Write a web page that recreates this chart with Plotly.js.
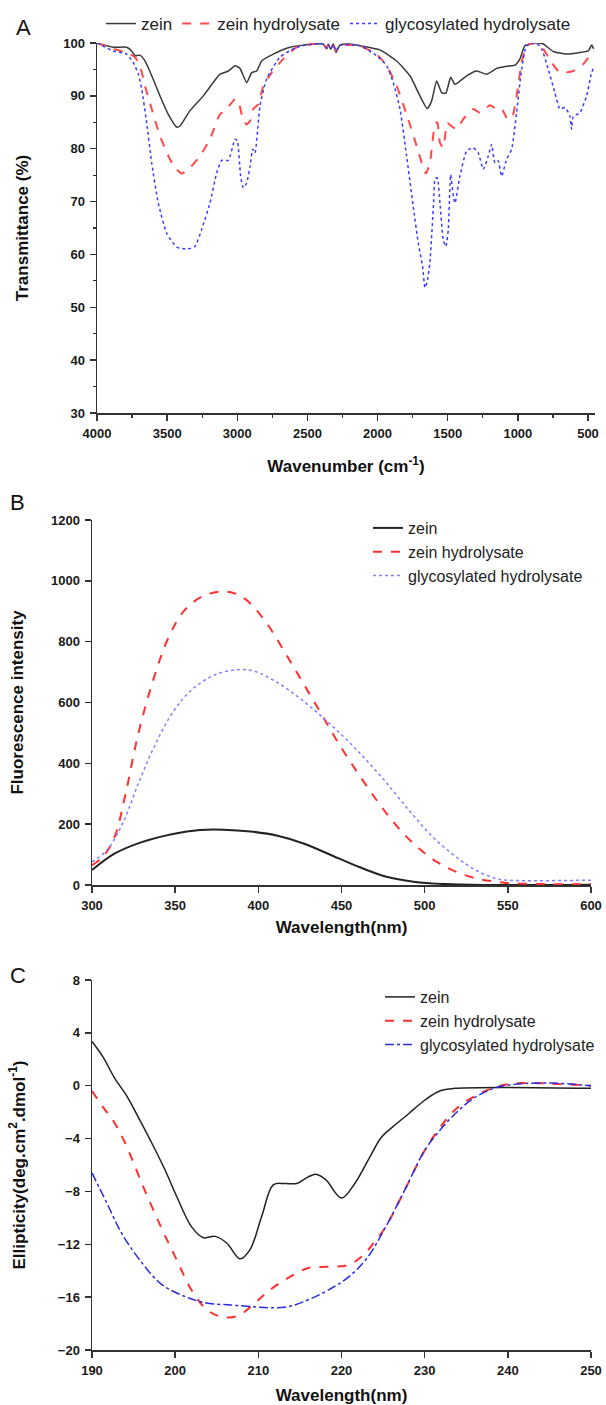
<!DOCTYPE html>
<html>
<head>
<meta charset="utf-8">
<script src="https://cdn.plot.ly/plotly-3.0.1.min.js"></script>
<style>html,body{margin:0;padding:0;background:#fff;}#chart{width:606px;height:1405px;}</style>
</head>
<body>
<div id="chart"></div>
<script>
// ---------- Panel A: FTIR ----------
const seriesNames = ["zein", "zein hydrolysate", "glycosylated hydrolysate"];

const zeinWn = [4000,3884,3789,3753,3729,3694,3658,3610,3551,3492,3432,3408,3337,3242,3123,3064,3016,2981,2933,2897,2862,2826,2743,2624,2458,2387,2363,2352,2334,2316,2296,2268,2197,2125,1983,1864,1769,1698,1646,1615,1579,1543,1513,1479,1448,1365,1294,1222,1151,1080,1021,985,949,866,819,748,652,557,498,474,460];
const zeinT  = [100,99.2,99.2,98.5,97.6,97.7,96.6,93.8,90,86.5,84.1,84.3,87.2,90,94.1,94.7,95.7,95.2,92.5,94.4,94.7,96.6,97.9,99.2,99.8,99.8,98.9,99.8,98.8,99.8,98.2,99.6,99.8,99.5,98.7,96.6,93.8,90,87.6,89,92.8,90.6,90.5,93.5,92.2,93.8,94.7,94.1,95.2,95.6,95.8,97,99.5,100,99.8,98.4,97.9,98.2,98.5,99.6,98.9];

const hydWn = [4000,3884,3789,3729,3694,3658,3610,3551,3480,3432,3396,3337,3266,3195,3123,3076,3016,2993,2957,2933,2909,2886,2850,2814,2755,2672,2577,2458,2387,2363,2352,2334,2316,2296,2268,2125,2007,1935,1864,1793,1721,1674,1655,1627,1591,1574,1555,1532,1503,1474,1436,1389,1318,1271,1199,1151,1116,1080,1044,1009,973,937,866,819,759,700,605,534,486,458];
const hydT  = [100,98.9,98.2,97.3,95.7,91.9,87.5,82.4,78,76.1,75.3,76.4,78.6,81.8,86.5,87.5,89.4,89,85.3,84.6,85.3,87.5,88.4,91.9,94.4,97,99.2,99.8,99.8,99,99.7,98.9,99.7,98.5,99.6,99.4,97.9,95.7,91.9,86.5,80.5,76.4,75.3,77.3,84.6,85,81.1,80.2,84.9,84.3,83.7,85.6,87.5,86.8,88.2,87.5,87.6,85.9,85.6,90,96.3,99.5,100,98.9,96.3,94.4,94.7,96,97.6,98.5];

const glyWn = [4000,3884,3789,3741,3705,3681,3646,3610,3563,3503,3432,3361,3302,3254,3195,3147,3111,3064,3016,3000,2976,2957,2933,2909,2890,2874,2838,2791,2696,2577,2458,2387,2363,2352,2334,2316,2296,2268,2125,2007,1935,1888,1840,1793,1746,1710,1679,1662,1645,1627,1600,1591,1574,1555,1532,1513,1496,1479,1460,1448,1413,1365,1318,1282,1247,1211,1187,1163,1140,1116,1080,1044,1009,973,937,866,830,783,736,700,664,629,617,605,557,510,474,458];
const glyT  = [100,98.5,97.9,96.3,94.1,91.3,84.9,77.3,69.7,64,61.4,61,61.5,64.7,69.7,75.4,77.8,77.8,81.8,81.5,74.8,72.6,73.5,76.7,79.9,79.2,88.1,93.2,97.3,99.2,99.8,99.8,99,99.7,98.9,99.7,98.5,99.6,99.5,97.6,95.7,92.5,87.5,78.6,69.1,62.2,57.7,53.7,55,58.4,70,74.2,74.5,69.7,62.8,61.5,64.7,75.1,71,69.7,74.8,79.6,80.2,79.2,76.1,78.6,80.8,77.3,77.7,74.8,78,79.9,86.8,95,99.5,100,98.9,95,90.6,87.5,87.8,86.2,83.7,86.1,86.8,90,94.4,95.4];

// ---------- Panel B: fluorescence ----------
const flZeinWl = [300,313.5,329.9,348.6,364.9,378.9,395.3,411.6,428,444.3,460.6,477,493.3,512,535.4,600];
const flZein   = [49,103,141,168,181,182,176,162,135,97,59,27,11,3,0,1];
const flHydWl  = [300,306.5,313.5,320.5,327.6,336.9,346.2,355.6,367.2,380,390.6,402.3,413.9,425.6,437.3,449,460.6,472.3,484,495.7,507.3,519,530.7,542.4,554,600];
const flHyd    = [65,92,157,308,492,676,816,903,951,965,946,881,784,676,568,459,362,270,189,124,76,43,22,11,5,3];
const flGlyWl  = [300,308.9,318.2,327.6,336.9,348.6,360.2,374.3,388.3,397.6,411.6,425.6,442,458.3,474.7,491,505,519,530.7,542.4,549.4,600];
const flGly    = [76,114,200,330,449,568,643,692,708,703,665,611,535,449,351,243,157,92,49,22,16,16];

// ---------- Panel C: circular dichroism ----------
const cdZeinWl = [190,191.3,192.7,194.1,195.5,197.4,198.8,200.2,202,203.4,204.8,206.2,207.8,209,210.4,211.8,213.2,214.6,216,216.9,218.1,220,221.6,223.4,224.8,226.2,228.1,230,231.8,233.7,250];
const cdZein   = [3.35,2.2,0.6,-0.7,-2.3,-4.6,-6.4,-8.4,-10.7,-11.5,-11.4,-11.9,-13.1,-12.4,-9.9,-7.5,-7.4,-7.4,-6.9,-6.7,-7.1,-8.5,-7.4,-5.4,-3.9,-3.1,-2.1,-1.1,-0.4,-0.2,-0.2];
const cdHydWl  = [190,191.3,192.7,194.1,196,198.3,200.2,202,203.9,205.7,207.6,209.5,211.3,213.7,216,218.3,220.6,222.5,224.1,225.3,227.6,230,231.8,233.7,236,238.8,241.6,245.3,250];
const cdHyd    = [-0.4,-1.6,-2.8,-4.5,-7.4,-10.7,-13.2,-15.5,-17,-17.5,-17.4,-16.5,-15.5,-14.5,-13.8,-13.7,-13.6,-12.9,-11.7,-10.7,-7.9,-4.9,-3.2,-1.8,-0.8,-0.05,0.2,0.15,0];
const cdGlyWl  = [190,191.8,193.6,196,198.3,200.6,203.4,206.7,209,211.3,213.7,216,218.3,220.6,223,225.3,227.6,230,231.8,233.7,236,238.8,241.6,245.3,250];
const cdGly    = [-6.6,-8.9,-11.2,-13.4,-15,-15.8,-16.4,-16.6,-16.7,-16.8,-16.7,-16.2,-15.5,-14.6,-13.1,-10.7,-7.9,-4.9,-3.4,-2.1,-0.9,-0.1,0.15,0.2,0];

// ---------- styles ----------
const W = 606, H = 1405;
const py = p => 1 - p / H;
const px = p => p / W;
const FAM = "Arial, Liberation Sans, sans-serif";
const tickFont = {family: FAM, size: 13, color: "#1a1a1a", weight: "bold"};
const titleFont = {family: FAM, size: 17, color: "#111", weight: "bold"};
const legFontA = {family: FAM, size: 17, color: "#222"};
const legFont = {family: FAM, size: 16, color: "#222"};
const axBase = {showgrid: false, zeroline: false, showline: true, linecolor: "#333", linewidth: 1.5,
  ticks: "outside", ticklen: 6, tickwidth: 1.5, tickcolor: "#333", tickfont: tickFont,
  ticklabelstandoff: 2, fixedrange: true};
const minorTick = {ticks: "outside", ticklen: 3, tickwidth: 1.2, tickcolor: "#333"};

const data = [
  {x: zeinWn, y: zeinT, name: seriesNames[0], xaxis: "x", yaxis: "y", legend: "legend", mode: "lines",
   line: {color: "#3a3a3a", width: 1.5, shape: "spline", smoothing: 0.5}},
  {x: hydWn, y: hydT, name: seriesNames[1], xaxis: "x", yaxis: "y", legend: "legend", mode: "lines",
   line: {color: "#ff4a4a", width: 2, dash: "dash", shape: "spline", smoothing: 0.5}},
  {x: glyWn, y: glyT, name: seriesNames[2], xaxis: "x", yaxis: "y", legend: "legend", mode: "lines",
   line: {color: "#3b3bff", width: 1.5, dash: "dot", shape: "spline", smoothing: 0.5}},

  {x: flZeinWl, y: flZein, name: seriesNames[0], xaxis: "x2", yaxis: "y2", legend: "legend2", mode: "lines",
   line: {color: "#222", width: 2, shape: "spline"}},
  {x: flHydWl, y: flHyd, name: seriesNames[1], xaxis: "x2", yaxis: "y2", legend: "legend2", mode: "lines",
   line: {color: "#ff3030", width: 2, dash: "dash", shape: "spline"}},
  {x: flGlyWl, y: flGly, name: seriesNames[2], xaxis: "x2", yaxis: "y2", legend: "legend2", mode: "lines",
   line: {color: "#8080ff", width: 1.5, dash: "dot", shape: "spline"}},

  {x: cdZeinWl, y: cdZein, name: seriesNames[0], xaxis: "x3", yaxis: "y3", legend: "legend3", mode: "lines",
   line: {color: "#222", width: 1.5, shape: "spline"}},
  {x: cdHydWl, y: cdHyd, name: seriesNames[1], xaxis: "x3", yaxis: "y3", legend: "legend3", mode: "lines",
   line: {color: "#ff3030", width: 2, dash: "dash", shape: "spline"}},
  {x: cdGlyWl, y: cdGly, name: seriesNames[2], xaxis: "x3", yaxis: "y3", legend: "legend3", mode: "lines",
   line: {color: "#2a2ae0", width: 1.5, dash: "dashdot", shape: "spline"}}
];

const layout = {
  width: W, height: H, margin: {l: 0, r: 0, t: 0, b: 0}, paper_bgcolor: "#fff", plot_bgcolor: "#fff",
  xaxis: Object.assign({}, axBase, {domain: [px(97), px(595)], range: [4000, 450], anchor: "y",
    tickvals: [4000,3500,3000,2500,2000,1500,1000,500],
    minor: Object.assign({dtick: 250, tick0: 0}, minorTick),
    title: {text: "Wavenumber (cm<sup>-1</sup>)", font: titleFont, standoff: 20}}),
  yaxis: Object.assign({}, axBase, {domain: [py(413), py(43)], range: [30, 100], anchor: "x", dtick: 10,
    minor: Object.assign({dtick: 5}, minorTick),
    title: {text: "Transmittance (%)", font: titleFont, standoff: 30}}),
  xaxis2: Object.assign({}, axBase, {domain: [px(92), px(591)], range: [300, 600], anchor: "y2", dtick: 50,
    title: {text: "Wavelength(nm)", font: titleFont, standoff: 9}}),
  yaxis2: Object.assign({}, axBase, {domain: [py(885), py(520)], range: [0, 1200], anchor: "x2", dtick: 200,
    title: {text: "Fluorescence intensity", font: titleFont, standoff: 23}}),
  xaxis3: Object.assign({}, axBase, {domain: [px(92), px(591)], range: [190, 250], anchor: "y3", dtick: 10,
    title: {text: "Wavelength(nm)", font: titleFont, standoff: 15}}),
  yaxis3: Object.assign({}, axBase, {domain: [py(1350), py(980)], range: [-20, 8], anchor: "x3", dtick: 4,
    title: {text: "Ellipticity(deg.cm<sup>2</sup>.dmol<sup>-1</sup>)", font: titleFont, standoff: 28}}),
  legend: {orientation: "h", x: px(101), y: py(6), xanchor: "left", yanchor: "top", font: legFontA,
    bgcolor: "rgba(0,0,0,0)", itemclick: false, itemdoubleclick: false},
  legend2: {x: px(368), y: py(511), xanchor: "left", yanchor: "top", font: legFont, tracegroupgap: 0,
    bgcolor: "rgba(0,0,0,0)", itemclick: false, itemdoubleclick: false},
  legend3: {x: px(380), y: py(980), xanchor: "left", yanchor: "top", font: legFont, tracegroupgap: 0,
    bgcolor: "rgba(0,0,0,0)", itemclick: false, itemdoubleclick: false},
  annotations: [
    {text: "A", x: px(14), y: py(28), xref: "paper", yref: "paper", xanchor: "left", yanchor: "middle", showarrow: false,
     font: {family: FAM, size: 22, color: "#111"}},
    {text: "B", x: px(8), y: py(502), xref: "paper", yref: "paper", xanchor: "left", yanchor: "middle", showarrow: false,
     font: {family: FAM, size: 22, color: "#111"}},
    {text: "C", x: px(8), y: py(975), xref: "paper", yref: "paper", xanchor: "left", yanchor: "middle", showarrow: false,
     font: {family: FAM, size: 22, color: "#111"}}
  ]
};

Plotly.newPlot("chart", data, layout, {displayModeBar: false, staticPlot: true});
</script>
</body>
</html>
